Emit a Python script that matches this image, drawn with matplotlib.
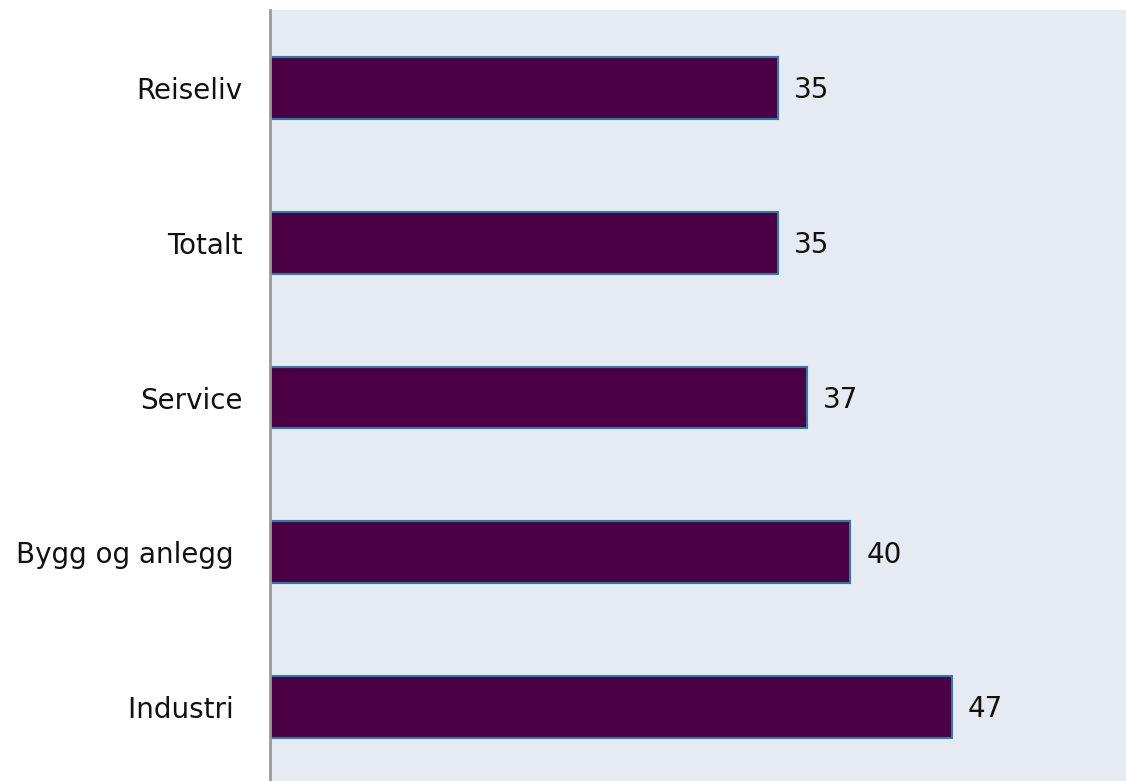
import matplotlib
matplotlib.use("Agg")
import matplotlib.pyplot as plt

# data, bottom to top
categories = ["Industri ", "Bygg og anlegg ", "Service", "Totalt", "Reiseliv"]
values = [47, 40, 37, 35, 35]

BAR_COLOR = "#4b0045"
EDGE_COLOR = "#2a7f9e"
BG_COLOR = "#e6eaf3"

plt.rcParams["font.family"] = "DejaVu Sans"

fig = plt.figure(figsize=(11.26, 7.81), dpi=100)
ax = fig.add_axes([270 / 1126, 0.0, 856 / 1126, 771 / 781])
ax.set_facecolor(BG_COLOR)

pos = list(range(len(categories)))
ax.barh(pos, values, height=0.40, color=BAR_COLOR, edgecolor=EDGE_COLOR, linewidth=1.5)

# value labels just right of each bar
for y, v in zip(pos, values):
    ax.text(v + 1.1, y - 0.015, str(v), va="center", ha="left", fontsize=20, color="#111111")

ax.set_xlim(0, 59)
ax.set_ylim(-0.478, 4.504)
ax.set_yticks(pos)
ax.set_yticklabels(categories, fontsize=20, color="#111111")
ax.tick_params(axis="y", length=0, pad=20)
ax.set_xticks([])

for side in ["top", "right", "bottom"]:
    ax.spines[side].set_visible(False)
ax.spines["left"].set_color("#999999")
ax.spines["left"].set_linewidth(2)

fig.savefig("out.png", dpi=100)
